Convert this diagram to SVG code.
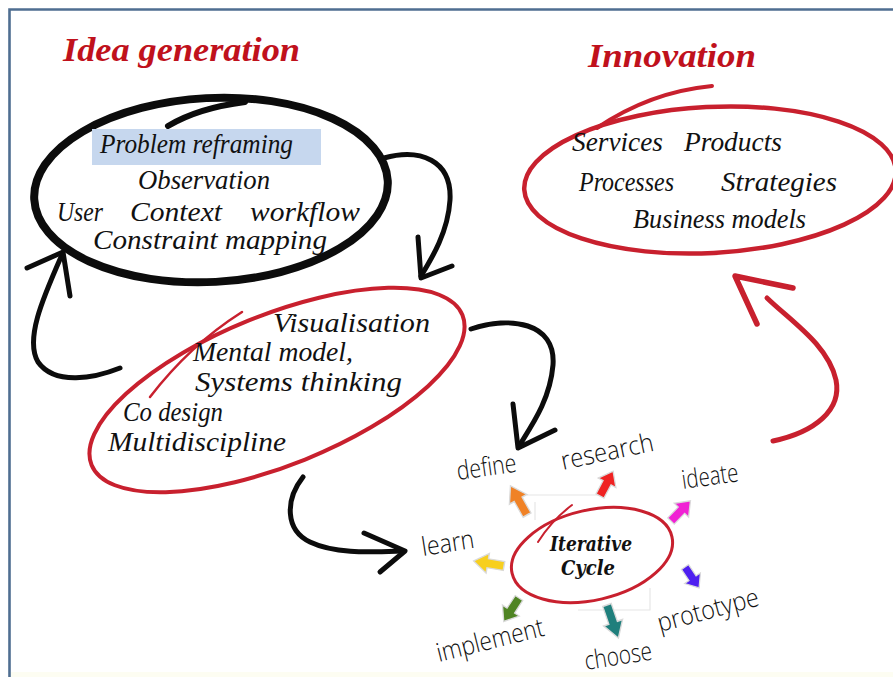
<svg xmlns="http://www.w3.org/2000/svg" width="893" height="677" viewBox="0 0 893 677">
  <style>
    .hand { font-family: "Liberation Serif", "DejaVu Serif", serif; font-style: italic; font-size: 27px; fill: #111; }
    .title { font-family: "Liberation Serif", "DejaVu Serif", serif; font-style: italic; font-weight: bold; font-size: 33px; fill: #c0111c; }
    .step { font-family: "Open Sans", "DejaVu Sans", sans-serif; font-weight: 300; font-size: 26px; fill: #111; }
    .hub { font-family: "DejaVu Serif", "Liberation Serif", serif; font-style: italic; font-weight: bold; font-size: 21px; fill: #111; }
    .pen-black { fill: none; stroke: #0c0c0c; stroke-linecap: round; stroke-linejoin: round; }
    .pen-red { fill: none; stroke: #c8202e; stroke-linecap: round; stroke-linejoin: round; }
    .blk { stroke: #dadada; stroke-width: 1.3; }
    .faint { fill: none; stroke: #e6e6e6; stroke-width: 1.2; }
  </style>
  <defs>
    <!-- small block arrow pointing along +x, tail at origin -->
    <path id="blockArrow" d="M0,-4.5 L15,-4.5 L15,-10 L28,0 L15,10 L15,4.5 L0,4.5 Z"/>
  </defs>

  <rect width="893" height="677" fill="#ffffff"/>
  <rect x="10" y="672" width="883" height="5" fill="#fdfdf2"/>

  <!-- frame -->
  <path d="M9.5,677 V9.5 H893" fill="none" stroke="#4f6e91" stroke-width="2.6"/>

  <!-- headings -->
  <g id="title-idea">
    <text class="title" x="63" y="61" textLength="237" lengthAdjust="spacingAndGlyphs">Idea generation</text>
  </g>
  <g id="title-innovation">
    <text class="title" x="588" y="67" textLength="168" lengthAdjust="spacingAndGlyphs">Innovation</text>
  </g>

  <!-- idea generation: problem reframing loop -->
  <g id="node-reframing">
    <ellipse class="pen-black" cx="211" cy="190" rx="177" ry="92" transform="rotate(-3 211 190)" stroke-width="8"/>
    <path class="pen-black" d="M168,126 Q198,108 245,102" stroke-width="6"/>
    <rect x="92" y="129" width="229" height="36" fill="#c6d7ee"/>
    <text class="hand" x="100" y="153" textLength="193" lengthAdjust="spacingAndGlyphs">Problem reframing</text>
    <text class="hand" x="138" y="189" textLength="132" lengthAdjust="spacingAndGlyphs">Observation</text>
    <text class="hand" x="57" y="221" textLength="46" lengthAdjust="spacingAndGlyphs">User</text>
    <text class="hand" x="130" y="221" textLength="92" lengthAdjust="spacingAndGlyphs">Context</text>
    <text class="hand" x="250" y="221" textLength="110" lengthAdjust="spacingAndGlyphs">workflow</text>
    <text class="hand" x="93" y="249" textLength="234" lengthAdjust="spacingAndGlyphs">Constraint mapping</text>
  </g>

  <!-- visualisation loop -->
  <g id="node-visualisation">
    <ellipse class="pen-red" cx="277" cy="390" rx="200" ry="75" transform="rotate(-22 277 390)" stroke-width="4"/>
    <path class="pen-red" d="M242,312 Q190,345 150,397" stroke-width="2.5"/>
    <text class="hand" x="273" y="332" textLength="157" lengthAdjust="spacingAndGlyphs">Visualisation</text>
    <text class="hand" x="193" y="361" textLength="160" lengthAdjust="spacingAndGlyphs">Mental model,</text>
    <text class="hand" x="195" y="391" textLength="207" lengthAdjust="spacingAndGlyphs">Systems thinking</text>
    <text class="hand" x="123" y="421" textLength="100" lengthAdjust="spacingAndGlyphs">Co design</text>
    <text class="hand" x="108" y="451" textLength="178" lengthAdjust="spacingAndGlyphs">Multidiscipline</text>
  </g>

  <!-- innovation outcomes -->
  <g id="node-innovation">
    <ellipse class="pen-red" cx="710" cy="180" rx="186" ry="73" transform="rotate(-3 710 180)" stroke-width="4.5"/>
    <path class="pen-red" d="M712,86 Q650,92 597,128" stroke-width="4"/>
    <text class="hand" x="572" y="151" textLength="91" lengthAdjust="spacingAndGlyphs">Services</text>
    <text class="hand" x="684" y="151" textLength="98" lengthAdjust="spacingAndGlyphs">Products</text>
    <text class="hand" x="579" y="191" textLength="95" lengthAdjust="spacingAndGlyphs">Processes</text>
    <text class="hand" x="721" y="191" textLength="116" lengthAdjust="spacingAndGlyphs">Strategies</text>
    <text class="hand" x="633" y="228" textLength="173" lengthAdjust="spacingAndGlyphs">Business models</text>
  </g>

  <!-- iterative cycle hub -->
  <g id="node-cycle">
    <path class="faint" d="M527,495 H600 M535,502 V520 M578,610 H650 V588"/>
    <ellipse class="pen-red" cx="592" cy="555" rx="82" ry="45" transform="rotate(-13 592 555)" stroke-width="3"/>
    <path class="pen-red" d="M572,505 Q552,520 538,542" stroke-width="2"/>
    <text class="hub" x="550" y="551" textLength="82" lengthAdjust="spacingAndGlyphs">Iterative</text>
    <text class="hub" x="561" y="575" textLength="54" lengthAdjust="spacingAndGlyphs">Cycle</text>
  </g>

  <!-- cycle steps -->
  <g id="step-define">
    <use href="#blockArrow" class="blk" fill="#f08226" transform="translate(527 515) rotate(-119.5) scale(1.2 1)"/>
    <text class="step" x="458" y="480" transform="rotate(-8 458 480)" textLength="60" lengthAdjust="spacingAndGlyphs">define</text>
  </g>
  <g id="step-research">
    <use href="#blockArrow" class="blk" fill="#ef2222" transform="translate(600 496) rotate(-62) scale(1 1)"/>
    <text class="step" x="563" y="470" transform="rotate(-12 563 470)" textLength="94" lengthAdjust="spacingAndGlyphs">research</text>
  </g>
  <g id="step-ideate">
    <use href="#blockArrow" class="blk" fill="#f022d4" transform="translate(671 521) rotate(-46) scale(1 1)"/>
    <text class="step" x="683" y="489" transform="rotate(-8 683 489)" textLength="57" lengthAdjust="spacingAndGlyphs">ideate</text>
  </g>
  <g id="step-prototype">
    <use href="#blockArrow" class="blk" fill="#4e1ff0" transform="translate(685 567) rotate(56) scale(0.9 0.95)"/>
    <text class="step" x="660" y="632" transform="rotate(-15 660 632)" textLength="104" lengthAdjust="spacingAndGlyphs">prototype</text>
  </g>
  <g id="step-choose">
    <use href="#blockArrow" class="blk" fill="#1f7f7c" transform="translate(607 605) rotate(71) scale(1.25 1)"/>
    <text class="step" x="586" y="670" transform="rotate(-9 586 670)" textLength="68" lengthAdjust="spacingAndGlyphs">choose</text>
  </g>
  <g id="step-implement">
    <use href="#blockArrow" class="blk" fill="#4f8423" transform="translate(519 598) rotate(123) scale(1 1)"/>
    <text class="step" x="439" y="662" transform="rotate(-14 439 662)" textLength="110" lengthAdjust="spacingAndGlyphs">implement</text>
  </g>
  <g id="step-learn">
    <use href="#blockArrow" class="blk" fill="#f7cf1f" transform="translate(504 566) rotate(189.5) scale(1.1 1)"/>
    <text class="step" x="423" y="556" transform="rotate(-9 423 556)" textLength="53" lengthAdjust="spacingAndGlyphs">learn</text>
  </g>

  <!-- connectors -->
  <g id="connectors">
    <!-- visualisation back to reframing -->
    <path class="pen-black" d="M120,368 C95,378 55,386 38,362 C25,340 42,300 61,257" stroke-width="5"/>
    <path class="pen-black" d="M27,268 L63,252 L70,296" stroke-width="5"/>
    <!-- reframing to visualisation -->
    <path class="pen-black" d="M384,158 C420,148 452,160 450,200 C448,232 432,258 421,276" stroke-width="5"/>
    <path class="pen-black" d="M418,237 L421,278 L452,266" stroke-width="5"/>
    <!-- visualisation to iterative cycle -->
    <path class="pen-black" d="M471,329 C510,316 556,322 553,365 C550,400 532,425 519,446" stroke-width="5"/>
    <path class="pen-black" d="M513,404 L518,448 L555,430" stroke-width="5"/>
    <!-- visualisation down to learn -->
    <path class="pen-black" d="M303,477 C285,500 285,530 310,542 C335,554 370,552 402,551" stroke-width="5"/>
    <path class="pen-black" d="M364,533 L405,551 L380,572" stroke-width="5"/>
    <!-- iterative cycle up to innovation -->
    <path class="pen-red" d="M773,441 C815,432 842,410 836,380 C828,345 792,322 767,298" stroke-width="5"/>
    <path class="pen-red" d="M793,288 L735,276 L757,324" stroke-width="5.5"/>
  </g>
</svg>
